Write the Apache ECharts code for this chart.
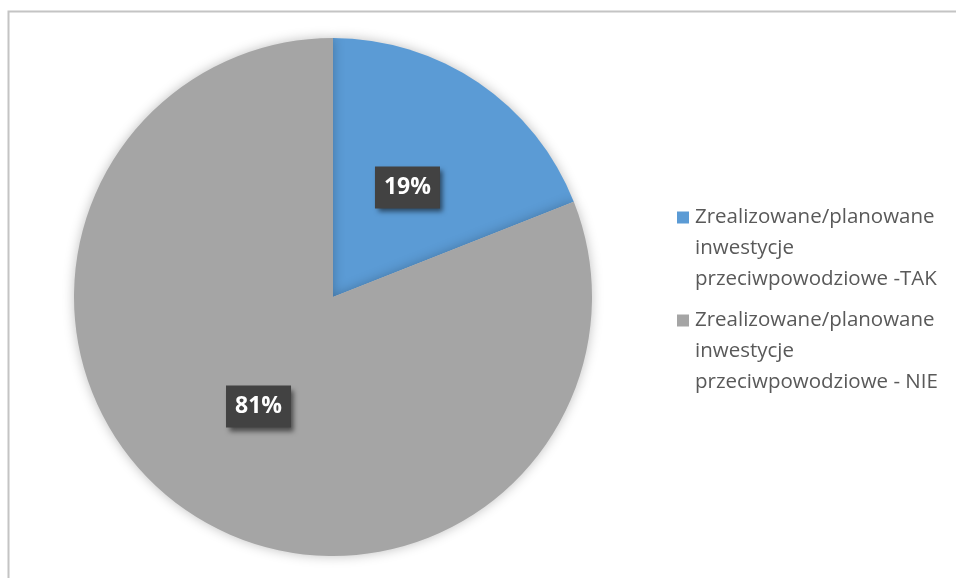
<!DOCTYPE html>
<html>
<head>
<meta charset="utf-8">
<script src="https://cdn.jsdelivr.net/npm/echarts@6/dist/echarts.min.js"></script>
<style>
  html, body { margin: 0; padding: 0; background: #fff; }
  #chart { width: 956px; height: 578px; }
</style>
</head>
<body>
<div id="chart"></div>
<script>
// categories split into the lines they are shown on in the legend
const categories = [
  ['Zrealizowane/planowane', 'inwestycje', 'przeciwpowodziowe -TAK'],
  ['Zrealizowane/planowane', 'inwestycje', 'przeciwpowodziowe - NIE']
]
const values = [19, 81]
const colors = ['#5B9BD5', '#A5A5A5']

const names = categories.map(v => v.join('\n'))

const chart = echarts.init(document.getElementById('chart'))
const option = {
  animation: false,
  graphic: [{
    type: 'rect',
    left: 6,
    top: 9,
    shape: { width: 1000, height: 600 },
    style: { fill: 'none', stroke: '#c4c4c4', lineWidth: 2 },
    silent: true
  }],
  legend: {
    orient: 'vertical',
    left: 667,
    top: 202,
    icon: 'none',
    itemWidth: 0,
    itemHeight: 12,
    itemGap: 20,
    formatter (name) {
      const key = names.indexOf(name) === 0 ? 'a' : 'b'
      return name.split('\n').map((line, i) =>
        (i === 0 ? '{' + key + '|}' : '{sp|}') + '{t|' + line + '}'
      ).join('\n')
    },
    textStyle: {
      rich: {
        a: { width: 12, height: 12, backgroundColor: colors[0] },
        b: { width: 12, height: 12, backgroundColor: colors[1] },
        sp: { width: 12, height: 12 },
        t: {
          fontFamily: 'Open Sans',
          fontSize: 20.5,
          color: '#595959',
          lineHeight: 31,
          padding: [0, 0, 0, 6]
        }
      }
    }
  },
  series: [{
    type: 'pie',
    center: [333, 297],
    radius: [0, 259],
    startAngle: 90,
    clockwise: true,
    color: colors,
    itemStyle: {
      borderWidth: 0,
      shadowBlur: 12,
      shadowColor: 'rgba(0,0,0,0.25)'
    },
    label: {
      show: true,
      position: 'inside',
      formatter: '{c}%',
      fontFamily: 'Open Sans',
      fontWeight: 'bold',
      fontSize: 23,
      color: '#ffffff',
      backgroundColor: '#424242',
      padding: [11, 9, 8, 9],
      shadowColor: 'rgba(0,0,0,0.55)',
      shadowBlur: 5,
      shadowOffsetX: 3,
      shadowOffsetY: 4
    },
    labelLine: { show: false },
    emphasis: { disabled: true },
    data: names.map((n, i) => ({ name: n, value: values[i] }))
  }]
}
chart.setOption(option)
</script>
</body>
</html>
